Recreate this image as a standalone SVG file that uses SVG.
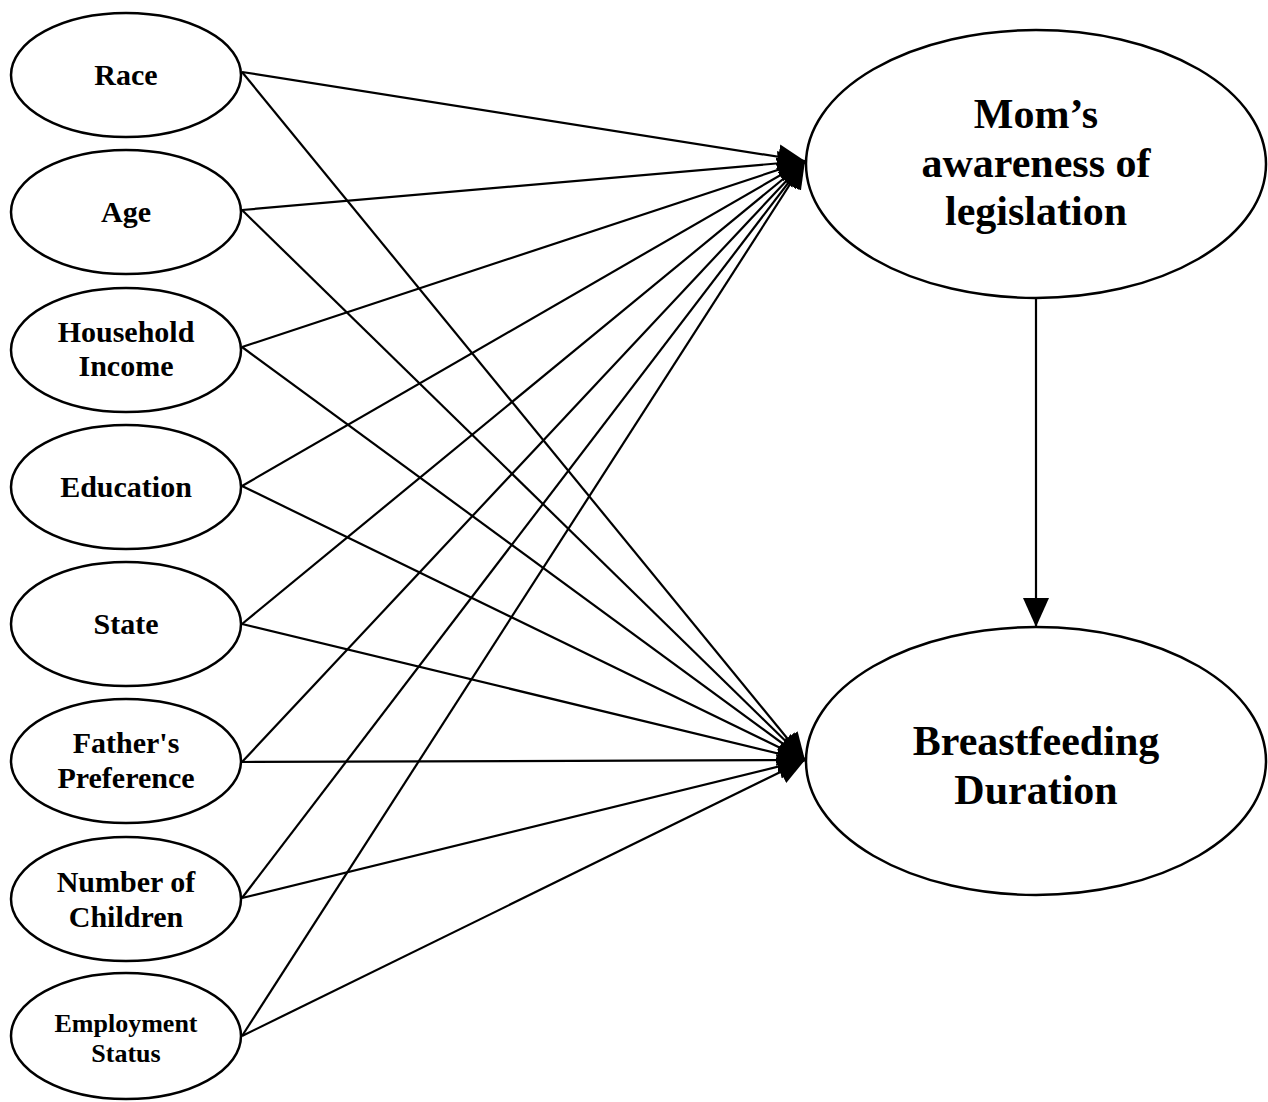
<svg xmlns="http://www.w3.org/2000/svg" width="1268" height="1102" viewBox="0 0 1268 1102">
<defs>
<style>
.n{fill:#fff;stroke:#000;stroke-width:2.5}
.t{font-family:"Liberation Serif","Times New Roman",serif;font-weight:bold;fill:#000;text-anchor:middle}
.s{font-size:30px}
.e{font-size:26px}
.b{font-size:42px}
.c line{stroke:#000;stroke-width:2.2;marker-end:url(#ah)}
</style>
<marker id="ah" markerUnits="userSpaceOnUse" markerWidth="30" markerHeight="28" refX="27" refY="12.5" orient="auto">
<path d="M0,0 L27,12.5 L0,25 z" fill="#000"/>
</marker>
<marker id="av" markerUnits="userSpaceOnUse" markerWidth="30" markerHeight="28" refX="29" refY="13" orient="auto">
<path d="M0,0 L29,13 L0,26 z" fill="#000"/>
</marker>
</defs>
<rect width="1268" height="1102" fill="#fff"/>
<g class="c">
<line x1="242" y1="72" x2="805" y2="161"/>
<line x1="242" y1="72" x2="805" y2="760"/>
<line x1="242" y1="210" x2="805" y2="161"/>
<line x1="242" y1="210" x2="805" y2="760"/>
<line x1="242" y1="347" x2="805" y2="161"/>
<line x1="242" y1="347" x2="805" y2="760"/>
<line x1="242" y1="486" x2="805" y2="161"/>
<line x1="242" y1="486" x2="805" y2="760"/>
<line x1="242" y1="624" x2="805" y2="161"/>
<line x1="242" y1="624" x2="805" y2="760"/>
<line x1="242" y1="762" x2="805" y2="161"/>
<line x1="242" y1="762" x2="805" y2="760"/>
<line x1="242" y1="898" x2="805" y2="161"/>
<line x1="242" y1="898" x2="805" y2="760"/>
<line x1="242" y1="1036" x2="805" y2="161"/>
<line x1="242" y1="1036" x2="805" y2="760"/>
<line x1="1036" y1="298" x2="1036" y2="627" style="marker-end:url(#av)"/>
</g>
<g id="race"><ellipse class="n" cx="126" cy="75" rx="115" ry="62"/><text class="t s" x="126" y="85">Race</text></g>
<g id="age"><ellipse class="n" cx="126" cy="212" rx="115" ry="62"/><text class="t s" x="126" y="222">Age</text></g>
<g id="income"><ellipse class="n" cx="126" cy="350" rx="115" ry="62"/><text class="t s" x="126" y="342">Household</text><text class="t s" x="126" y="376">Income</text></g>
<g id="education"><ellipse class="n" cx="126" cy="487" rx="115" ry="62"/><text class="t s" x="126" y="497">Education</text></g>
<g id="state"><ellipse class="n" cx="126" cy="624" rx="115" ry="62"/><text class="t s" x="126" y="634">State</text></g>
<g id="father"><ellipse class="n" cx="126" cy="761" rx="115" ry="62"/><text class="t s" x="126" y="753">Father's</text><text class="t s" x="126" y="788">Preference</text></g>
<g id="children"><ellipse class="n" cx="126" cy="899" rx="115" ry="62"/><text class="t s" x="126" y="892">Number of</text><text class="t s" x="126" y="927">Children</text></g>
<g id="employment"><ellipse class="n" cx="126" cy="1036" rx="115" ry="63"/><text class="t e" x="126" y="1032">Employment</text><text class="t e" x="126" y="1062">Status</text></g>
<g id="awareness"><ellipse class="n" cx="1036" cy="164" rx="230" ry="134"/><text class="t b" x="1036" y="128">Mom’s</text><text class="t b" x="1036" y="177">awareness of</text><text class="t b" x="1036" y="225">legislation</text></g>
<g id="duration"><ellipse class="n" cx="1036" cy="761" rx="230" ry="134"/><text class="t b" x="1036" y="755">Breastfeeding</text><text class="t b" x="1036" y="804">Duration</text></g>
</svg>
